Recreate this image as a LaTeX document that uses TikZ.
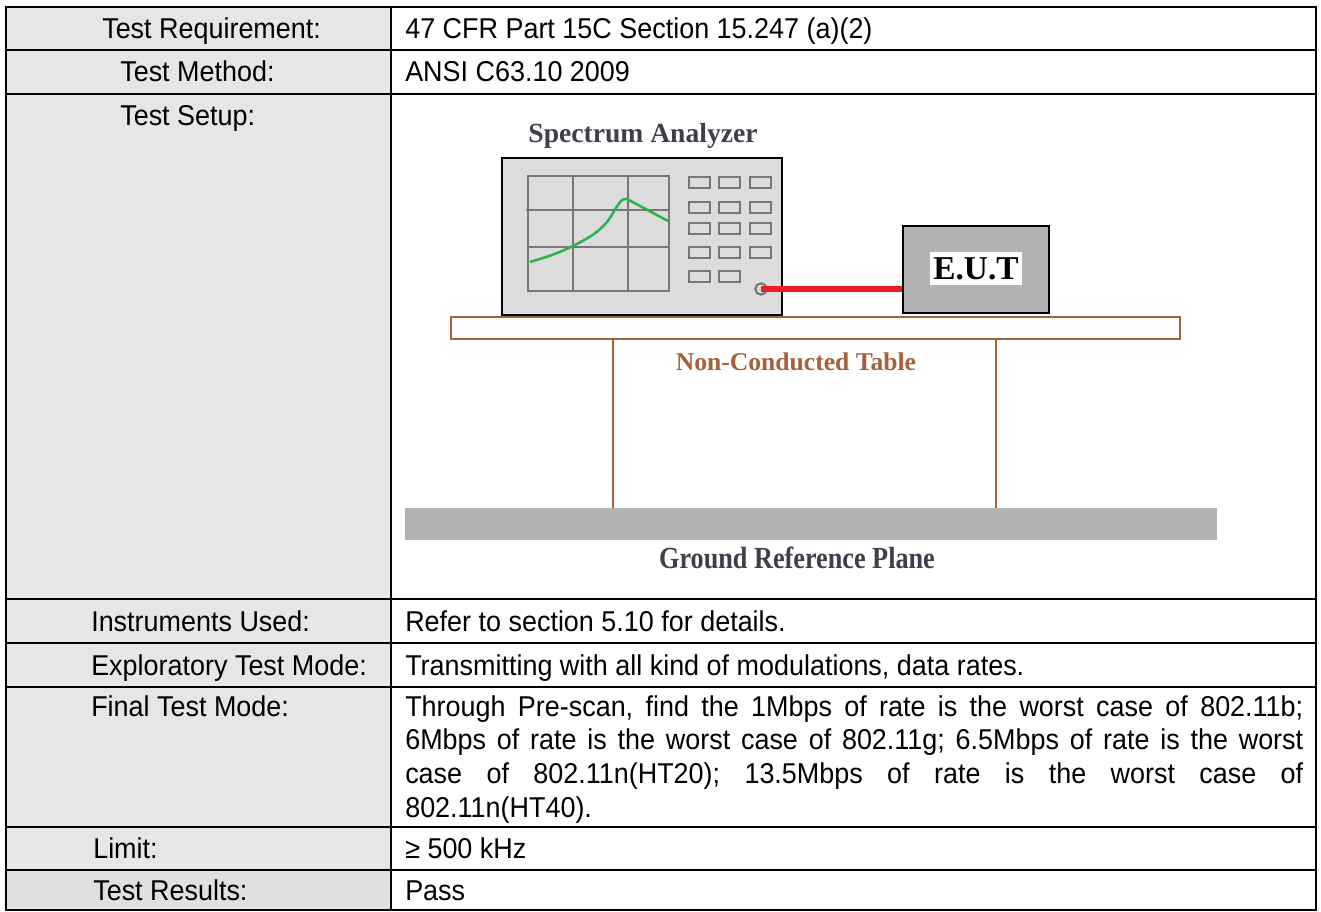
\documentclass[tikz,border=0pt]{standalone}
\usepackage{fontspec}
\setmainfont{Liberation Sans}[FakeStretch=0.94]
\newfontfamily\tnr{Liberation Serif}
\newfontfamily\tnrn{Liberation Serif}[FakeStretch=0.855]
\definecolor{cellgray}{HTML}{E6E6E6}
\definecolor{cellgrayb}{HTML}{E0E0E0}
\definecolor{boxgray}{HTML}{DCDCDC}
\definecolor{scrgray}{HTML}{777777}
\definecolor{eutgray}{HTML}{B3B3B3}
\definecolor{tbrown}{HTML}{A5603C}
\definecolor{cablered}{HTML}{ED1C24}
\definecolor{tracegreen}{HTML}{2DB34A}
\definecolor{slate}{HTML}{3F3F4C}
\tikzset{
  lbl/.style={anchor=base west,inner sep=0pt,font=\fontsize{21.5}{25}\selectfont},
  val/.style={anchor=base west,inner sep=0pt,font=\fontsize{21.5}{25}\selectfont},
  grid/.style={draw=scrgray,line width=1.9pt},
  btn/.style={draw=scrgray,line width=1.8pt},
  figtitle/.style={font=\tnr\bfseries\fontsize{20.7}{24}\selectfont,text=slate,inner sep=0pt},
  rule/.style={line width=1.6pt}
}
\begin{document}
\begin{tikzpicture}[x=0.75pt,y=-0.75pt]
\frenchspacing
\useasboundingbox (0,0) rectangle (1321,912);
% cell fills
\fill[cellgray] (6,7) rectangle (391,870);
\fill[cellgrayb] (6,870) rectangle (391,910);
% horizontal rules
\foreach \yy in {50,94,599,643,687,827,870}
  \draw[rule] (6,\yy) -- (1316,\yy);
\draw[rule] (391,7) -- (391,910);
\draw[line width=2pt] (6,7) rectangle (1316,910);

% left labels
\node[lbl] (l1) at (102,38.5) {Test Requirement:};
\node[lbl] (l2) at (120,82) {Test Method:};
\node[lbl] (l3) at (120,126) {Test Setup:};
\node[lbl] (l4) at (91,631) {Instruments Used:};
\node[lbl] (l5) at (91,675) {Exploratory Test Mode:};
\node[lbl] (l6) at (91,716) {Final Test Mode:};
\node[lbl] (l7) at (93,858.5) {Limit:};
\node[lbl] (l8) at (93,900) {Test Results:};

% right values
\node[val] (v1) at (405,38.5) {47 CFR Part 15C Section 15.247 (a)(2)};
\node[val] (v2) at (405,82) {ANSI C63.10 2009};
\node[val] (v4) at (405,631) {Refer to section 5.10 for details.};
\node[val] (v5) at (405,675) {Transmitting with all kind of modulations, data rates.};
\node[anchor=north west,inner sep=0pt,text width=673.5pt,align=justify,
      font=\fontsize{21.5}{25.3}\selectfont] (v6) at (405,695)
  {Through Pre-scan, find the 1Mbps of rate is the worst case of 802.11b;\linebreak
   6Mbps of rate is the worst case of 802.11g; 6.5Mbps of rate is the worst\linebreak
   case of 802.11n(HT20); 13.5Mbps of rate is the worst case of\linebreak
   802.11n(HT40).};
\node[val] (v7) at (405,858.5) {≥ 500 kHz};
\node[val] (v8) at (405,900) {Pass};

% ---- test setup drawing ----
\node[figtitle] (satitle) at (643,136) {Spectrum Analyzer};
% analyzer body
\node[draw=black,line width=2.2pt,fill=boxgray,minimum width=210pt,minimum height=117.75pt,inner sep=0pt] (sa) at (642,236.5) {};
% screen grid
\draw[grid] (528,176) rectangle (669,291);
\draw[grid] (573,176) -- (573,291);
\draw[grid] (628,176) -- (628,291);
\draw[grid] (526,210) -- (669,210);
\draw[grid] (528,247) -- (669,247);
% trace
\draw[tracegreen,line width=1.9pt,line join=round]
  plot[smooth] coordinates {(530,262) (552,255) (573,246) (594,234) (607,222) (616,208) (622,200) (627,199)}
  -- (668,221);
% buttons
\foreach \yy in {177,202,223,247}
  \foreach \xx in {689,719,750}
    \draw[btn] (\xx,\yy) rectangle ++(21,11);
\foreach \xx in {689,719}
  \draw[btn] (\xx,271) rectangle ++(21,11);
\node[circle,draw=scrgray,line width=1.6pt,minimum size=8.5pt,inner sep=0pt] (port) at (761,289) {};

% EUT
\node[draw=black,line width=2pt,fill=eutgray,minimum width=109.5pt,minimum height=65.25pt,inner sep=0pt] (eut) at (976,269.5) {};
\node[fill=white,minimum width=69pt,minimum height=24.75pt,inner sep=0pt,font=\tnr\bfseries\fontsize{25}{28}\selectfont] (eutlbl) at (976,268.5) {E.U.T};
\draw[cablered,line width=3.8pt] (port.center) -- (port -| eut.west);

% table
\draw[tbrown,line width=1.8pt,fill=white] (451,317) rectangle (1180,339);
\draw[tbrown,line width=2.2pt] (613,339) -- (613,508);
\draw[tbrown,line width=2.2pt] (996,339) -- (996,508);
\node[font=\tnr\bfseries\fontsize{19.2}{22}\selectfont,text=tbrown,inner sep=0pt] (tbl) at (796,362) {Non-Conducted Table};

% ground plane
\fill[eutgray] (405,508) rectangle (1217,540);
\node[figtitle,font=\tnrn\bfseries\fontsize{23}{26}\selectfont] (gnd) at (797,558) {Ground Reference Plane};
\end{tikzpicture}
\end{document}
